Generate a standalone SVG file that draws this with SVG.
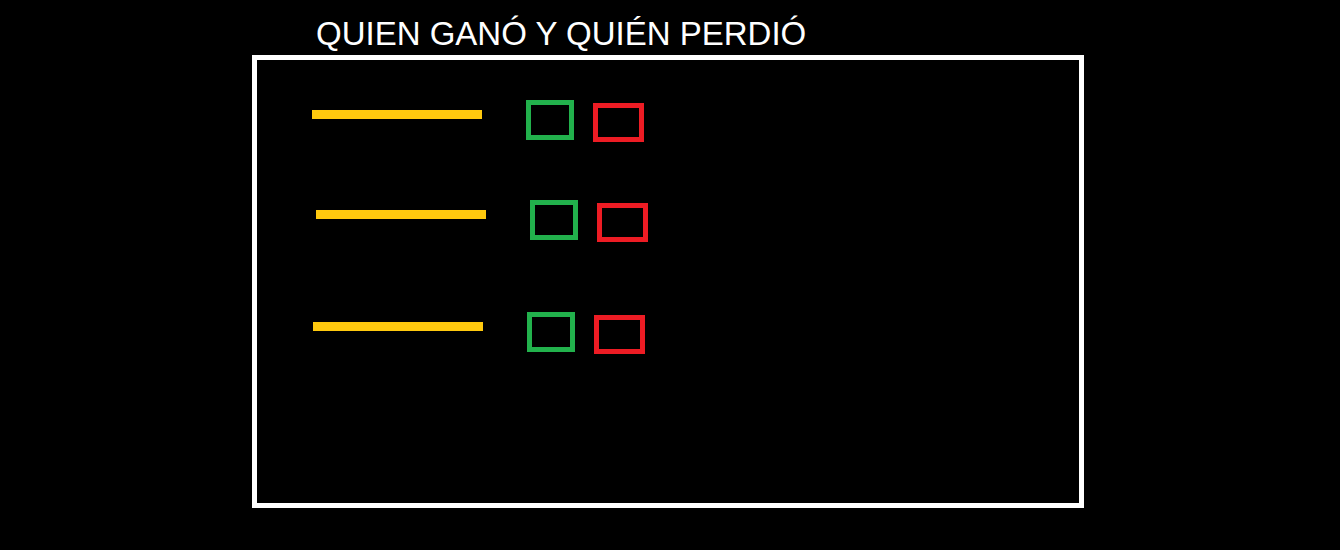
<svg xmlns="http://www.w3.org/2000/svg" width="1340" height="550" viewBox="0 0 1340 550">
  <style>
    .title { font-family: "Liberation Sans", Arial, sans-serif; font-size: 33px; fill: #ffffff; }
    .frame { fill: none; stroke: #ffffff; stroke-width: 5; }
    .bar { fill: #ffc90e; }
    .win { fill: none; stroke: #22b14c; stroke-width: 5; }
    .lose { fill: none; stroke: #ed1c24; stroke-width: 5; }
  </style>
  <rect x="0" y="0" width="1340" height="550" fill="#000000"/>
  <g id="title">
    <text class="title" x="316" y="45">QUIEN GANÓ Y QUIÉN PERDIÓ</text>
  </g>
  <g id="frame">
    <rect class="frame" x="254.5" y="57.5" width="827" height="448"/>
  </g>
  <g id="row1">
    <rect class="bar" x="312" y="110" width="170" height="9"/>
    <rect class="win" x="528.5" y="102.5" width="43" height="35"/>
    <rect class="lose" x="595.5" y="105.5" width="46" height="34"/>
  </g>
  <g id="row2">
    <rect class="bar" x="316" y="210" width="170" height="9"/>
    <rect class="win" x="532.5" y="202.5" width="43" height="35"/>
    <rect class="lose" x="599.5" y="205.5" width="46" height="34"/>
  </g>
  <g id="row3">
    <rect class="bar" x="313" y="322" width="170" height="9"/>
    <rect class="win" x="529.5" y="314.5" width="43" height="35"/>
    <rect class="lose" x="596.5" y="317.5" width="46" height="34"/>
  </g>
  <g id="connectors"/>
</svg>
